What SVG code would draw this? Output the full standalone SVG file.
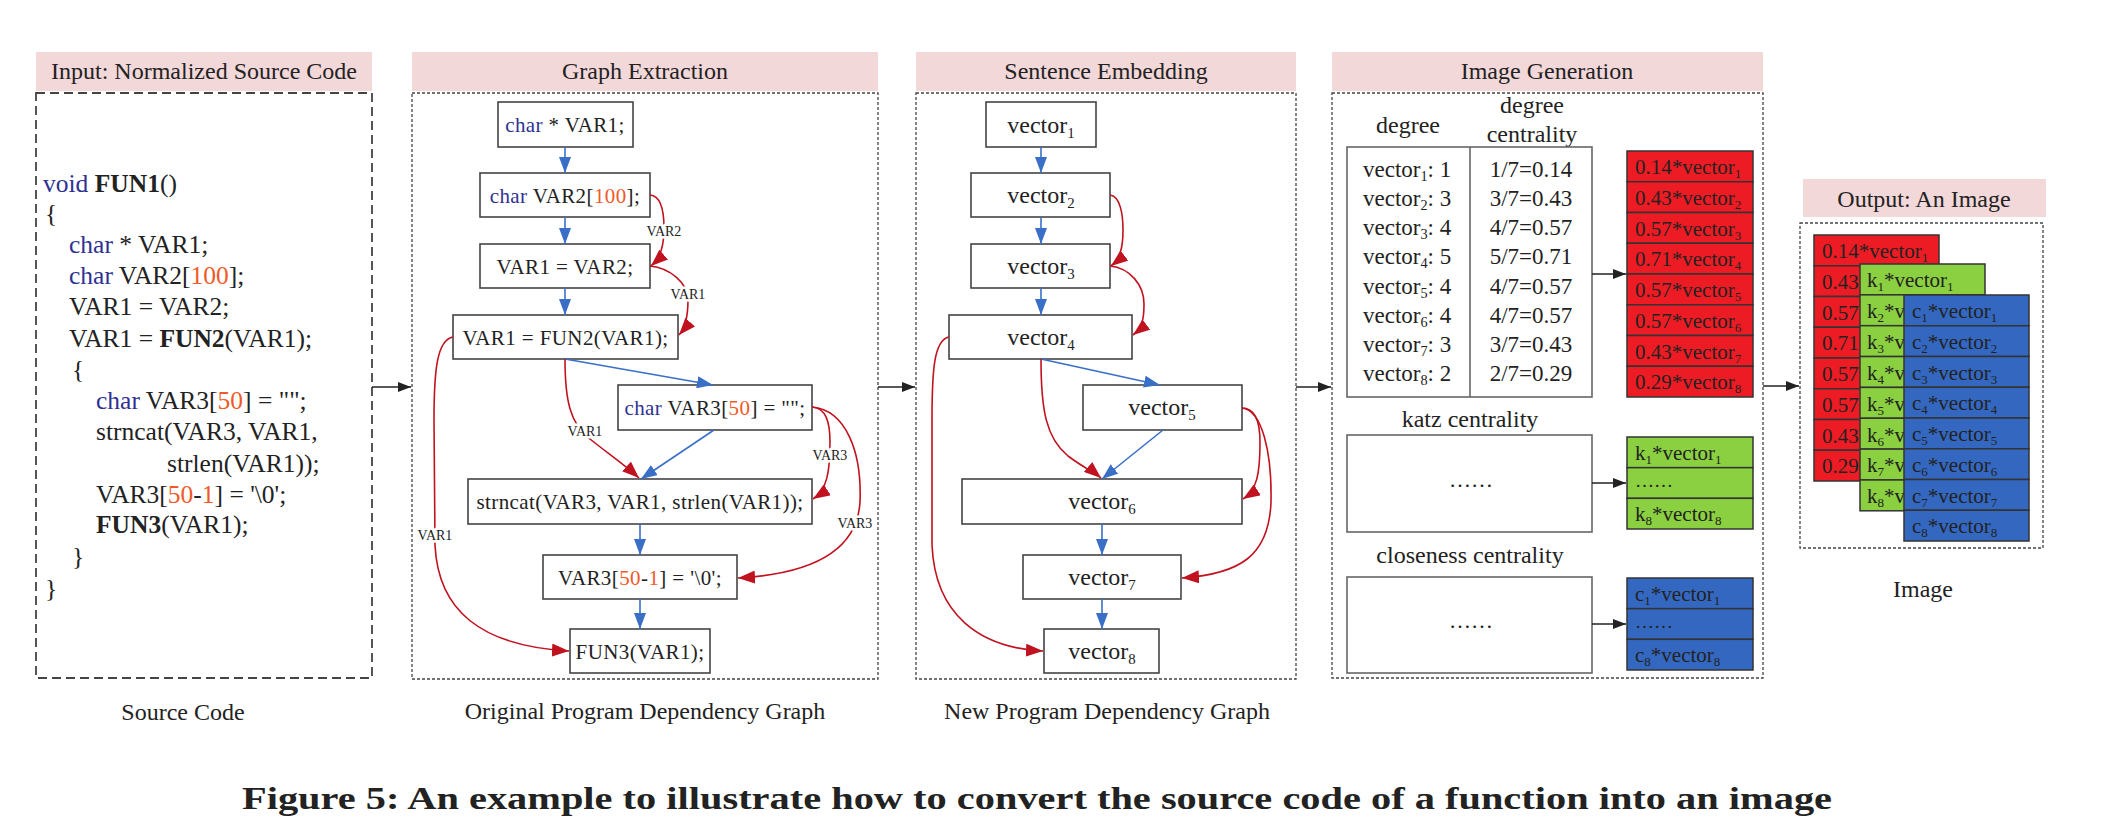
<svg xmlns="http://www.w3.org/2000/svg" width="2101" height="832" viewBox="0 0 2101 832">
<style>
text{font-family:"Liberation Serif","Times New Roman",serif;fill:#222}
.hdr{fill:#F3D8DA}
.hdt{font-size:24px;text-anchor:middle}
.pan{fill:none;stroke:#444;stroke-width:1.3;stroke-dasharray:3 2}
.pan1{fill:none;stroke:#444;stroke-width:1.8;stroke-dasharray:9 5}
.code{font-size:25.5px}
.kw{fill:#2E3192}
.num{fill:#F05A28}
.b{font-weight:bold}
.nd{fill:#fff;stroke:#444;stroke-width:1.6}
.nt{font-size:21px;text-anchor:middle;letter-spacing:0.4px}
.vt{font-size:24px;text-anchor:middle}
.sub{font-size:62%}
.el{font-size:14px;text-anchor:middle;stroke:#fff;stroke-width:5;paint-order:stroke;stroke-linejoin:round}
.cap{font-size:24px;text-anchor:middle}
.be{fill:none;stroke:#3A6FC8;stroke-width:1.6;marker-end:url(#ab)}
.re{fill:none;stroke:#C1121F;stroke-width:1.6;marker-end:url(#ar)}
.ke{fill:none;stroke:#222;stroke-width:1.6;marker-end:url(#ak)}
.tb{fill:#fff;stroke:#666;stroke-width:1.6}
.tt{font-size:23px}
.lb{font-size:24px;text-anchor:middle}
.cr{fill:#ED1C24;stroke:#333;stroke-width:1.5}
.cg{fill:#8BD040;stroke:#333;stroke-width:1.5}
.cb{fill:#3468C0;stroke:#333;stroke-width:1.5}
.st{font-size:21px}
</style>
<defs>
<marker id="ab" markerUnits="userSpaceOnUse" markerWidth="16" markerHeight="12" refX="16" refY="6" orient="auto"><path d="M0,0 L16,6 L0,12 z" fill="#3A6FC8"/></marker>
<marker id="ar" markerUnits="userSpaceOnUse" markerWidth="17" markerHeight="13" refX="17" refY="6.5" orient="auto"><path d="M0,0 L17,6.5 L0,13 z" fill="#C1121F"/></marker>
<marker id="ak" markerUnits="userSpaceOnUse" markerWidth="13" markerHeight="10" refX="13" refY="5" orient="auto"><path d="M0,0 L13,5 L0,10 z" fill="#222"/></marker>
</defs>
<rect width="2101" height="832" fill="#fff"/>

<!-- Panel 1: Input -->
<g id="panel-input">
<rect class="hdr" x="36" y="52" width="336" height="39"/>
<text class="hdt" x="204" y="79">Input: Normalized Source Code</text>
<rect class="pan1" x="36" y="93" width="336" height="585"/>
<g class="code">
<text x="43" y="192"><tspan class="kw">void</tspan> <tspan class="b">FUN1</tspan>()</text>
<text x="45" y="222">{</text>
<text x="69" y="253"><tspan class="kw">char</tspan> * VAR1;</text>
<text x="69" y="284"><tspan class="kw">char</tspan> VAR2[<tspan class="num">100</tspan>];</text>
<text x="69" y="315">VAR1 = VAR2;</text>
<text x="69" y="347">VAR1 = <tspan class="b">FUN2</tspan>(VAR1);</text>
<text x="72" y="378">{</text>
<text x="96" y="409"><tspan class="kw">char</tspan> VAR3[<tspan class="num">50</tspan>] = "";</text>
<text x="96" y="440">strncat(VAR3, VAR1,</text>
<text x="167" y="472">strlen(VAR1));</text>
<text x="96" y="503">VAR3[<tspan class="num">50</tspan>-<tspan class="num">1</tspan>] = '\0';</text>
<text x="96" y="533"><tspan class="b">FUN3</tspan>(VAR1);</text>
<text x="72" y="565">}</text>
<text x="45" y="597">}</text>
</g>
<text class="cap" x="183" y="720">Source Code</text>
</g>

<!-- Panel 2: Graph Extraction -->
<g id="panel-graph">
<rect class="hdr" x="412" y="52" width="466" height="39"/>
<text class="hdt" x="645" y="79">Graph Extraction</text>
<rect class="pan" x="412" y="93" width="466" height="586"/>
<text class="cap" x="645" y="719">Original Program Dependency Graph</text>
</g>
<g id="g-n1"><rect class="nd" x="498" y="102" width="135" height="45"/><text class="nt" x="565" y="132"><tspan class="kw">char</tspan> * VAR1;</text></g>
<g id="g-n2"><rect class="nd" x="480" y="173" width="170" height="44"/><text class="nt" x="565" y="203"><tspan class="kw">char</tspan> VAR2[<tspan class="num">100</tspan>];</text></g>
<g id="g-n3"><rect class="nd" x="480" y="244" width="170" height="44"/><text class="nt" x="565" y="274">VAR1 = VAR2;</text></g>
<g id="g-n4"><rect class="nd" x="453" y="315" width="225" height="44"/><text class="nt" x="565.5" y="345">VAR1 = FUN2(VAR1);</text></g>
<g id="g-n5"><rect class="nd" x="618" y="385" width="194" height="45"/><text class="nt" x="715" y="415"><tspan class="kw">char</tspan> VAR3[<tspan class="num">50</tspan>] = "";</text></g>
<g id="g-n6"><rect class="nd" x="468" y="479" width="344" height="45"/><text class="nt" x="640" y="509">strncat(VAR3, VAR1, strlen(VAR1));</text></g>
<g id="g-n7"><rect class="nd" x="543" y="555" width="194" height="44"/><text class="nt" x="640" y="585">VAR3[<tspan class="num">50</tspan>-<tspan class="num">1</tspan>] = '\0';</text></g>
<g id="g-n8"><rect class="nd" x="570" y="629" width="140" height="44"/><text class="nt" x="640" y="659">FUN3(VAR1);</text></g>

<!-- Panel 3: Sentence Embedding -->
<g id="panel-sentence">
<rect class="hdr" x="916" y="52" width="380" height="39"/>
<text class="hdt" x="1106" y="79">Sentence Embedding</text>
<rect class="pan" x="916" y="93" width="380" height="586"/>
<text class="cap" x="1107" y="719">New Program Dependency Graph</text>
</g>
<g id="v1"><rect class="nd" x="986" y="102" width="110" height="45"/><text class="vt" x="1041" y="133">vector<tspan class="sub" dy="5">1</tspan></text></g>
<g id="v2"><rect class="nd" x="971" y="173" width="139" height="44"/><text class="vt" x="1041" y="203">vector<tspan class="sub" dy="5">2</tspan></text></g>
<g id="v3"><rect class="nd" x="971" y="244" width="139" height="44"/><text class="vt" x="1041" y="274">vector<tspan class="sub" dy="5">3</tspan></text></g>
<g id="v4"><rect class="nd" x="949" y="315" width="183" height="44"/><text class="vt" x="1041" y="345">vector<tspan class="sub" dy="5">4</tspan></text></g>
<g id="v5"><rect class="nd" x="1083" y="385" width="159" height="45"/><text class="vt" x="1162" y="415">vector<tspan class="sub" dy="5">5</tspan></text></g>
<g id="v6"><rect class="nd" x="962" y="479" width="280" height="45"/><text class="vt" x="1102" y="509">vector<tspan class="sub" dy="5">6</tspan></text></g>
<g id="v7"><rect class="nd" x="1023" y="555" width="158" height="44"/><text class="vt" x="1102" y="585">vector<tspan class="sub" dy="5">7</tspan></text></g>
<g id="v8"><rect class="nd" x="1044" y="629" width="115" height="44"/><text class="vt" x="1102" y="659">vector<tspan class="sub" dy="5">8</tspan></text></g>

<!-- Panel 4: Image Generation -->
<g id="panel-imagegen">
<rect class="hdr" x="1332" y="52" width="431" height="39"/>
<text class="hdt" x="1547" y="79">Image Generation</text>
<rect class="pan" x="1332" y="93" width="431" height="585"/>
</g>
<g id="degree-table">
<text class="lb" x="1408" y="133">degree</text>
<text class="lb" x="1532" y="113">degree</text>
<text class="lb" x="1532" y="142">centrality</text>
<rect class="tb" x="1347" y="147" width="245" height="250"/>
<line x1="1470" y1="147" x2="1470" y2="397" stroke="#666" stroke-width="1.6"/>
<g class="tt">
<text x="1363" y="177">vector<tspan class="sub" dy="4">1</tspan><tspan dy="-4">: 1</tspan></text>
<text x="1363" y="206">vector<tspan class="sub" dy="4">2</tspan><tspan dy="-4">: 3</tspan></text>
<text x="1363" y="235">vector<tspan class="sub" dy="4">3</tspan><tspan dy="-4">: 4</tspan></text>
<text x="1363" y="264">vector<tspan class="sub" dy="4">4</tspan><tspan dy="-4">: 5</tspan></text>
<text x="1363" y="294">vector<tspan class="sub" dy="4">5</tspan><tspan dy="-4">: 4</tspan></text>
<text x="1363" y="323">vector<tspan class="sub" dy="4">6</tspan><tspan dy="-4">: 4</tspan></text>
<text x="1363" y="352">vector<tspan class="sub" dy="4">7</tspan><tspan dy="-4">: 3</tspan></text>
<text x="1363" y="381">vector<tspan class="sub" dy="4">8</tspan><tspan dy="-4">: 2</tspan></text>
<text x="1531" y="177" text-anchor="middle">1/7=0.14</text>
<text x="1531" y="206" text-anchor="middle">3/7=0.43</text>
<text x="1531" y="235" text-anchor="middle">4/7=0.57</text>
<text x="1531" y="264" text-anchor="middle">5/7=0.71</text>
<text x="1531" y="294" text-anchor="middle">4/7=0.57</text>
<text x="1531" y="323" text-anchor="middle">4/7=0.57</text>
<text x="1531" y="352" text-anchor="middle">3/7=0.43</text>
<text x="1531" y="381" text-anchor="middle">2/7=0.29</text>
</g>
</g>
<g id="degree-stack" class="st">
<rect class="cr" x="1627" y="151" width="126" height="30.75"/>
<rect class="cr" x="1627" y="181.75" width="126" height="30.75"/>
<rect class="cr" x="1627" y="212.5" width="126" height="30.75"/>
<rect class="cr" x="1627" y="243.25" width="126" height="30.75"/>
<rect class="cr" x="1627" y="274" width="126" height="30.75"/>
<rect class="cr" x="1627" y="304.75" width="126" height="30.75"/>
<rect class="cr" x="1627" y="335.5" width="126" height="30.75"/>
<rect class="cr" x="1627" y="366.25" width="126" height="30.75"/>
<text x="1635" y="174">0.14*vector<tspan class="sub" dy="4">1</tspan></text>
<text x="1635" y="205">0.43*vector<tspan class="sub" dy="4">2</tspan></text>
<text x="1635" y="235.5">0.57*vector<tspan class="sub" dy="4">3</tspan></text>
<text x="1635" y="266">0.71*vector<tspan class="sub" dy="4">4</tspan></text>
<text x="1635" y="297">0.57*vector<tspan class="sub" dy="4">5</tspan></text>
<text x="1635" y="328">0.57*vector<tspan class="sub" dy="4">6</tspan></text>
<text x="1635" y="358.5">0.43*vector<tspan class="sub" dy="4">7</tspan></text>
<text x="1635" y="389">0.29*vector<tspan class="sub" dy="4">8</tspan></text>
</g>
<g id="katz">
<text class="lb" x="1470" y="427">katz centrality</text>
<rect class="tb" x="1347" y="435" width="245" height="97"/>
<text x="1471" y="487" font-size="22" text-anchor="middle">……</text>
</g>
<g id="katz-stack" class="st">
<rect class="cg" x="1627" y="437" width="126" height="30.67"/>
<rect class="cg" x="1627" y="467.67" width="126" height="30.67"/>
<rect class="cg" x="1627" y="498.33" width="126" height="30.67"/>
<text x="1635" y="460">k<tspan class="sub" dy="4">1</tspan><tspan dy="-4">*vector</tspan><tspan class="sub" dy="4">1</tspan></text>
<text x="1635" y="487" font-size="19">……</text>
<text x="1635" y="521">k<tspan class="sub" dy="4">8</tspan><tspan dy="-4">*vector</tspan><tspan class="sub" dy="4">8</tspan></text>
</g>
<g id="closeness">
<text class="lb" x="1470" y="563">closeness centrality</text>
<rect class="tb" x="1347" y="577" width="245" height="96"/>
<text x="1471" y="628" font-size="22" text-anchor="middle">……</text>
</g>
<g id="closeness-stack" class="st">
<rect class="cb" x="1627" y="578" width="126" height="30.67"/>
<rect class="cb" x="1627" y="608.67" width="126" height="30.67"/>
<rect class="cb" x="1627" y="639.33" width="126" height="30.67"/>
<text x="1635" y="601">c<tspan class="sub" dy="4">1</tspan><tspan dy="-4">*vector</tspan><tspan class="sub" dy="4">1</tspan></text>
<text x="1635" y="628" font-size="19">……</text>
<text x="1635" y="662">c<tspan class="sub" dy="4">8</tspan><tspan dy="-4">*vector</tspan><tspan class="sub" dy="4">8</tspan></text>
</g>

<!-- Panel 5: Output -->
<g id="panel-output">
<rect class="hdr" x="1803" y="179" width="243" height="38"/>
<text class="hdt" x="1924" y="207">Output: An Image</text>
<rect class="pan" x="1800" y="223" width="243" height="325"/>
<text class="cap" x="1923" y="597">Image</text>
</g>
<g id="out-red" class="st">
<rect class="cr" x="1814" y="235" width="125" height="30.75"/>
<rect class="cr" x="1814" y="265.75" width="125" height="30.75"/>
<rect class="cr" x="1814" y="296.5" width="125" height="30.75"/>
<rect class="cr" x="1814" y="327.25" width="125" height="30.75"/>
<rect class="cr" x="1814" y="358" width="125" height="30.75"/>
<rect class="cr" x="1814" y="388.75" width="125" height="30.75"/>
<rect class="cr" x="1814" y="419.5" width="125" height="30.75"/>
<rect class="cr" x="1814" y="450.25" width="125" height="30.75"/>
<text x="1822" y="258">0.14*vector<tspan class="sub" dy="4">1</tspan></text>
<text x="1822" y="289">0.43</text>
<text x="1822" y="319.5">0.57</text>
<text x="1822" y="350">0.71</text>
<text x="1822" y="381">0.57</text>
<text x="1822" y="412">0.57</text>
<text x="1822" y="442.5">0.43</text>
<text x="1822" y="473">0.29</text>
</g>
<g id="out-green" class="st">
<rect class="cg" x="1860" y="264" width="125" height="30.85"/>
<rect class="cg" x="1860" y="294.85" width="125" height="30.85"/>
<rect class="cg" x="1860" y="325.7" width="125" height="30.85"/>
<rect class="cg" x="1860" y="356.55" width="125" height="30.85"/>
<rect class="cg" x="1860" y="387.4" width="125" height="30.85"/>
<rect class="cg" x="1860" y="418.25" width="125" height="30.85"/>
<rect class="cg" x="1860" y="449.1" width="125" height="30.85"/>
<rect class="cg" x="1860" y="479.95" width="125" height="30.85"/>
<text x="1867" y="287">k<tspan class="sub" dy="4">1</tspan><tspan dy="-4">*vector</tspan><tspan class="sub" dy="4">1</tspan></text>
<text x="1867" y="318">k<tspan class="sub" dy="4">2</tspan><tspan dy="-4">*v</tspan></text>
<text x="1867" y="349">k<tspan class="sub" dy="4">3</tspan><tspan dy="-4">*v</tspan></text>
<text x="1867" y="380">k<tspan class="sub" dy="4">4</tspan><tspan dy="-4">*v</tspan></text>
<text x="1867" y="410.5">k<tspan class="sub" dy="4">5</tspan><tspan dy="-4">*v</tspan></text>
<text x="1867" y="441.5">k<tspan class="sub" dy="4">6</tspan><tspan dy="-4">*v</tspan></text>
<text x="1867" y="472">k<tspan class="sub" dy="4">7</tspan><tspan dy="-4">*v</tspan></text>
<text x="1867" y="503">k<tspan class="sub" dy="4">8</tspan><tspan dy="-4">*v</tspan></text>
</g>
<g id="out-blue" class="st">
<rect class="cb" x="1904" y="295" width="125" height="30.75"/>
<rect class="cb" x="1904" y="325.75" width="125" height="30.75"/>
<rect class="cb" x="1904" y="356.5" width="125" height="30.75"/>
<rect class="cb" x="1904" y="387.25" width="125" height="30.75"/>
<rect class="cb" x="1904" y="418" width="125" height="30.75"/>
<rect class="cb" x="1904" y="448.75" width="125" height="30.75"/>
<rect class="cb" x="1904" y="479.5" width="125" height="30.75"/>
<rect class="cb" x="1904" y="510.25" width="125" height="30.75"/>
<text x="1912" y="318">c<tspan class="sub" dy="4">1</tspan><tspan dy="-4">*vector</tspan><tspan class="sub" dy="4">1</tspan></text>
<text x="1912" y="349">c<tspan class="sub" dy="4">2</tspan><tspan dy="-4">*vector</tspan><tspan class="sub" dy="4">2</tspan></text>
<text x="1912" y="379.5">c<tspan class="sub" dy="4">3</tspan><tspan dy="-4">*vector</tspan><tspan class="sub" dy="4">3</tspan></text>
<text x="1912" y="410">c<tspan class="sub" dy="4">4</tspan><tspan dy="-4">*vector</tspan><tspan class="sub" dy="4">4</tspan></text>
<text x="1912" y="441">c<tspan class="sub" dy="4">5</tspan><tspan dy="-4">*vector</tspan><tspan class="sub" dy="4">5</tspan></text>
<text x="1912" y="472">c<tspan class="sub" dy="4">6</tspan><tspan dy="-4">*vector</tspan><tspan class="sub" dy="4">6</tspan></text>
<text x="1912" y="502.5">c<tspan class="sub" dy="4">7</tspan><tspan dy="-4">*vector</tspan><tspan class="sub" dy="4">7</tspan></text>
<text x="1912" y="533">c<tspan class="sub" dy="4">8</tspan><tspan dy="-4">*vector</tspan><tspan class="sub" dy="4">8</tspan></text>
</g>

<!-- Connectors -->
<g id="connectors">
<line class="ke" x1="372" y1="387" x2="411" y2="387"/>
<line class="ke" x1="878" y1="387" x2="915" y2="387"/>
<line class="ke" x1="1296" y1="387" x2="1331" y2="387"/>
<line class="ke" x1="1592" y1="274" x2="1626" y2="274"/>
<line class="ke" x1="1592" y1="483" x2="1626" y2="483"/>
<line class="ke" x1="1592" y1="624" x2="1626" y2="624"/>
<line class="ke" x1="1763" y1="386" x2="1799" y2="386"/>

<line class="be" x1="565" y1="147" x2="565" y2="173"/>
<line class="be" x1="565" y1="217" x2="565" y2="244"/>
<line class="be" x1="565" y1="288" x2="565" y2="315"/>
<line class="be" x1="565" y1="359" x2="713" y2="385"/>
<line class="be" x1="714" y1="430" x2="641" y2="479"/>
<line class="be" x1="640" y1="524" x2="640" y2="555"/>
<line class="be" x1="640" y1="599" x2="640" y2="629"/>

<path class="re" d="M650,195 C662,196 664,214 664,228 C664,245 661,257 651,266"/>
<path class="re" d="M650,266 C670,268 688,283 688,300 C688,316 686,327 679,335"/>
<path class="re" d="M453,337 C437,340 434,370 434,420 L435,545 C438,610 480,646 569,651"/>
<path class="re" d="M565,359 C565,400 570,424 590,439 C606,452 625,465 639,478"/>
<path class="re" d="M812,407 C826,408 830,422 830,442 C830,472 827,490 813,499"/>
<path class="re" d="M812,407 C846,410 862,452 860,502 C857,552 810,574 738,578"/>
<text class="el" x="664" y="236">VAR2</text>
<text class="el" x="688" y="299">VAR1</text>
<text class="el" x="585" y="436">VAR1</text>
<text class="el" x="435" y="540">VAR1</text>
<text class="el" x="830" y="460">VAR3</text>
<text class="el" x="855" y="528">VAR3</text>

<line class="be" x1="1041" y1="147" x2="1041" y2="173"/>
<line class="be" x1="1041" y1="217" x2="1041" y2="244"/>
<line class="be" x1="1041" y1="288" x2="1041" y2="315"/>
<line class="be" x1="1041" y1="359" x2="1160" y2="385"/>
<line class="be" x1="1163" y1="430" x2="1102" y2="479"/>
<line class="be" x1="1102" y1="524" x2="1102" y2="555"/>
<line class="be" x1="1102" y1="599" x2="1102" y2="629"/>

<path class="re" d="M1110,195 C1120,196 1123,214 1123,230 C1123,248 1120,259 1111,266"/>
<path class="re" d="M1110,266 C1130,268 1144,285 1144,304 C1144,320 1142,328 1133,335"/>
<path class="re" d="M949,337 C934,340 932,370 932,420 L932,545 C935,615 980,648 1043,651"/>
<path class="re" d="M1041,359 C1041,410 1046,438 1068,456 C1084,468 1094,472 1101,478"/>
<path class="re" d="M1242,408 C1255,408 1260,422 1260,442 C1260,474 1257,490 1243,499"/>
<path class="re" d="M1242,408 C1262,410 1272,452 1271,502 C1269,556 1240,574 1182,578"/>
</g>

<text x="1037" y="809" font-size="31" font-weight="bold" text-anchor="middle" textLength="1590" lengthAdjust="spacingAndGlyphs">Figure 5: An example to illustrate how to convert the source code of a function into an image</text>
</svg>
